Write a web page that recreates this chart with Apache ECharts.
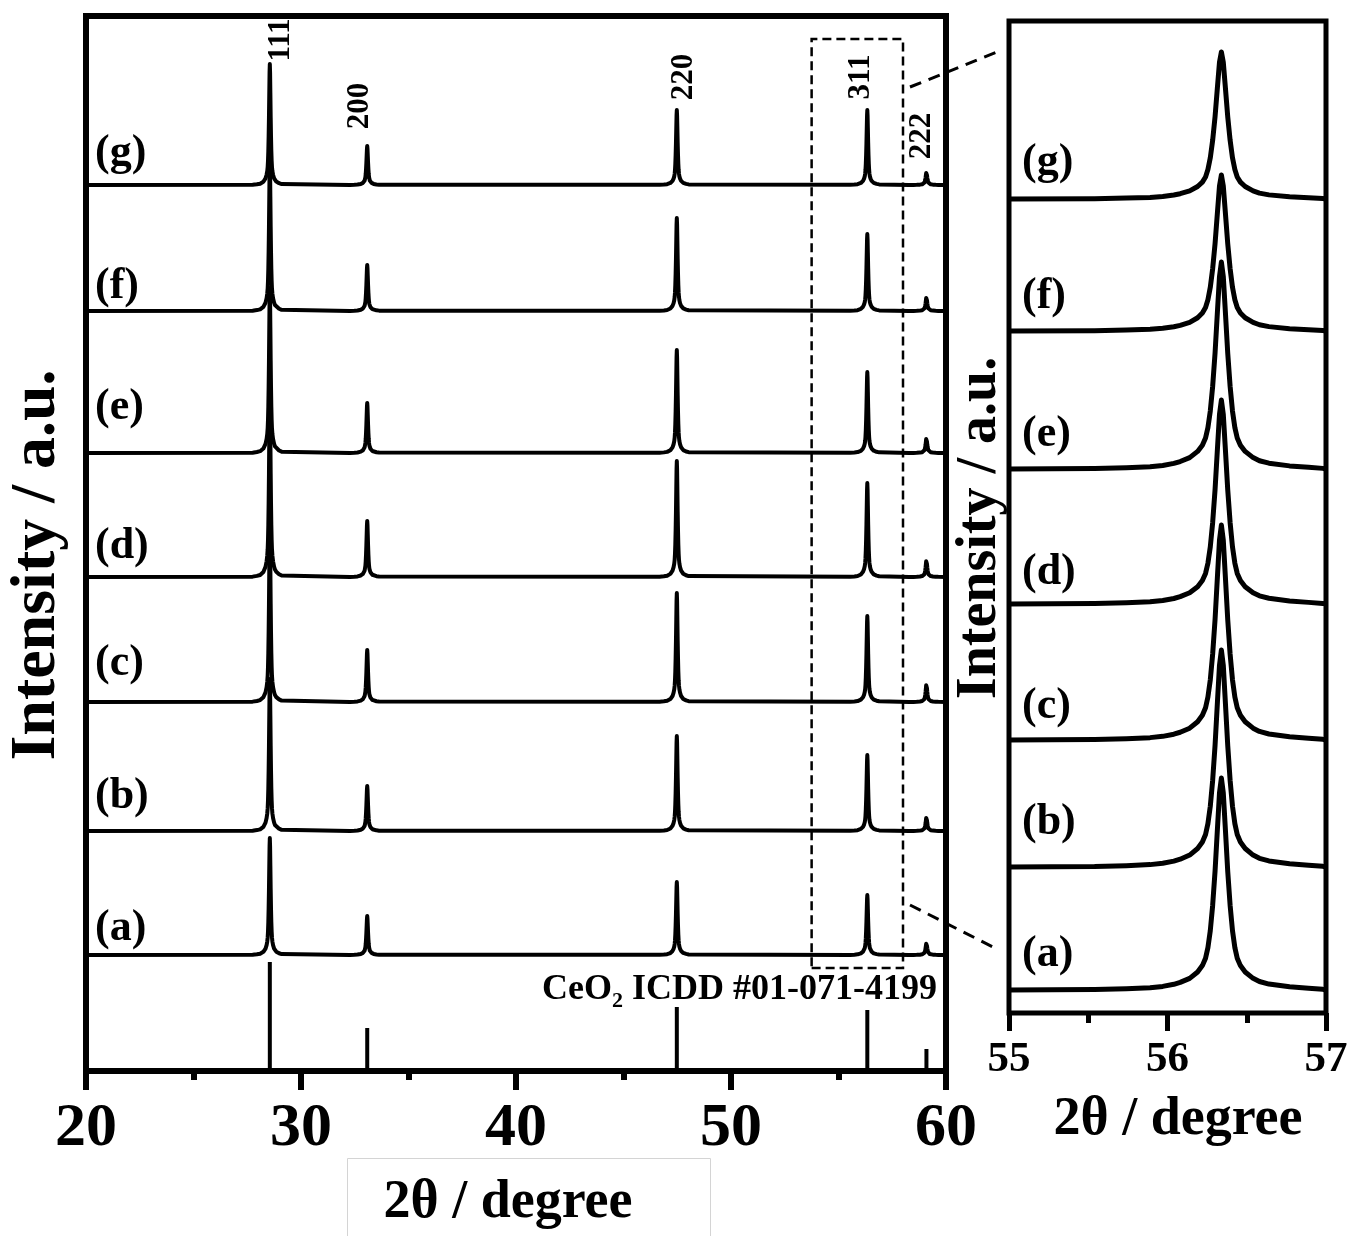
<!DOCTYPE html>
<html><head><meta charset="utf-8">
<script src="https://cdn.jsdelivr.net/npm/echarts@6/dist/echarts.min.js"></script>
<style>html,body{margin:0;padding:0;background:#fff}#c{width:1351px;height:1236px}</style>
</head><body><div id="c"></div>
<script>
// ---------------- data ----------------
const samples = ['(a)', '(b)', '(c)', '(d)', '(e)', '(f)', '(g)'];
const peakPositions = [28.55, 33.08, 47.48, 56.34, 59.09];
const hklLabels = ['111', '200', '220', '311', '222'];

// main panel (intensity in a.u.)
const mainBaselines = [116, 240, 369, 494, 618, 760, 886];
const peak111 = [117, 152, 175, 185, 165, 150, 121];
const peak200 = [39, 45, 52, 56, 50, 46, 39];
const peak220 = [73, 95, 109, 116, 103, 93, 75];
const peak311 = [60, 76, 86, 94, 81, 77, 75];
const peak222 = [12, 14, 18, 17, 15, 14, 13];

// CeO2 ICDD #01-071-4199 reference sticks
const refPositions = [28.55, 33.08, 47.48, 56.34, 59.09];
const refIntensities = [109, 43, 64, 61, 22];

// inset (311 reflection, 55-57 deg)
const insetBaselines = [23, 146, 273, 409, 544, 682, 814];
const insetPeak311 = [212, 217, 215, 204, 207, 156, 147];

// reflection profile: offset from peak centre (deg) and fraction of peak height
const profileOffsets =   [-0.8, -0.6, -0.45, -0.37, -0.3, -0.26, -0.2, -0.15, -0.12, -0.1, -0.085, -0.07, -0.055, -0.04, -0.025, -0.012, 0,
                          0.012, 0.025, 0.04, 0.055, 0.07, 0.085, 0.1, 0.12, 0.15, 0.2, 0.24, 0.3, 0.43, 0.55, 0.64];
const profileFractions = [0.002, 0.006, 0.011, 0.017, 0.027, 0.036, 0.055, 0.085, 0.115, 0.15, 0.2, 0.28, 0.4, 0.56, 0.76, 0.93, 1,
                          0.93, 0.76, 0.56, 0.4, 0.28, 0.2, 0.15, 0.115, 0.085, 0.055, 0.04, 0.028, 0.015, 0.008, 0.003];

const mainTickLabels = ['20', '30', '40', '50', '60'];
const insetTickLabels = ['55', '56', '57'];

// ---------------- build ----------------
const FONT = 'Liberation Serif';
function buildTrace(base, heights, centers, xmin, xmax) {
  const pts = [[xmin, base]];
  centers.forEach((c, i) => {
    profileOffsets.forEach((o, j) => pts.push([c + o, base + heights[i] * profileFractions[j]]));
  });
  pts.push([xmax, base]);
  pts.sort((p, q) => p[0] - q[0]);
  return pts;
}

const series = [];
samples.forEach((s, k) => {
  const h = [peak111[k], peak200[k], peak220[k], peak311[k], peak222[k]];
  series.push({
    name: s, type: 'line', xAxisIndex: 0, yAxisIndex: 0, showSymbol: false, symbol: 'none',
    lineStyle: { color: '#000', width: 4, join: 'round' }, clip: true, silent: true,
    data: buildTrace(mainBaselines[k], h, peakPositions, 20, 60)
  });
  series.push({
    name: s + ' inset', type: 'line', xAxisIndex: 1, yAxisIndex: 1, showSymbol: false, symbol: 'none',
    lineStyle: { color: '#000', width: 5, join: 'round' }, clip: true, silent: true,
    data: buildTrace(insetBaselines[k], [insetPeak311[k]], [peakPositions[3]], 55, 57)
  });
});
series.push({
  name: 'ICDD', type: 'bar', xAxisIndex: 0, yAxisIndex: 0, barWidth: 4, silent: true,
  itemStyle: { color: '#000' },
  data: refPositions.map((x, i) => [x, refIntensities[i]]),
  markArea: {
    silent: true,
    itemStyle: { color: 'rgba(0,0,0,0)', borderColor: '#000', borderWidth: 2.5, borderType: [9, 5] },
    data: [[{ coord: [53.75, 103] }, { coord: [58, 1032] }]]
  }
});

function txt(x, y, text, size, opts) {
  return Object.assign({
    type: 'text', x: x, y: y, silent: true, z: 100,
    style: Object.assign({ text: text, fontSize: size, fontWeight: 'bold', fontFamily: FONT, fill: '#000',
      align: 'center', verticalAlign: 'middle', textAlign: 'center', textVerticalAlign: 'middle' }, (opts && opts.style) || {})
  }, (opts && opts.el) || {});
}

const leftLabelY = [929, 797, 664, 547, 408, 287, 154];
const rightLabelY = [955, 823, 707, 573, 435, 297, 163];
const graphics = [];
samples.forEach((s, k) => {
  graphics.push(txt(95, leftLabelY[k], s, 44, { style: { align: 'left', textAlign: 'left' } }));
  graphics.push(txt(1022, rightLabelY[k], s, 44, { style: { align: 'left', textAlign: 'left' } }));
});
const hklPos = [[281, 40], [360, 106], [684, 77], [861, 77], [922, 136]];
hklLabels.forEach((t, i) => {
  graphics.push(txt(hklPos[i][0], hklPos[i][1], t, 31, { el: { rotation: Math.PI / 2 } }));
});
graphics.push(txt(37, 565, 'Intensity / a.u.', 64, { el: { rotation: Math.PI / 2 } }));
graphics.push(txt(981, 528, 'Intensity / a.u.', 56, { el: { rotation: Math.PI / 2 } }));
graphics.push(txt(508, 1203, '2θ / degree', 54));
graphics.push(txt(1178, 1120, '2θ / degree', 54));
graphics.push({
  type: 'text', x: 937, y: 990, silent: true, z: 100,
  style: {
    text: '{n|CeO}{s|2}{n| ICDD #01-071-4199}', align: 'right', verticalAlign: 'middle',
    textAlign: 'right', textVerticalAlign: 'middle',
    rich: {
      n: { fontSize: 36, fontWeight: 'bold', fontFamily: FONT, fill: '#000', lineHeight: 40 },
      s: { fontSize: 22, fontWeight: 'bold', fontFamily: FONT, fill: '#000', lineHeight: 40, padding: [22, 0, 0, 0] }
    }
  }
});
graphics.push({ type: 'rect', silent: true, shape: { x: 347.5, y: 1158.5, width: 363, height: 100 },
  style: { fill: 'none', stroke: '#d4d4d4', lineWidth: 1 } });
graphics.push({ type: 'line', silent: true, z: 100, shape: { x1: 910, y1: 87, x2: 997, y2: 52 },
  style: { stroke: '#000', lineWidth: 3, lineDash: [12, 8] } });
graphics.push({ type: 'line', silent: true, z: 100, shape: { x1: 910, y1: 905, x2: 993, y2: 947 },
  style: { stroke: '#000', lineWidth: 3, lineDash: [12, 8] } });

const chart = echarts.init(document.getElementById('c'), null, { renderer: 'canvas' });
chart.setOption({
  animation: false,
  backgroundColor: '#fff',
  grid: [
    { left: 86, top: 16, width: 860, height: 1055, show: true, borderColor: '#000', borderWidth: 6, backgroundColor: 'transparent' },
    { left: 1009, top: 21, width: 317, height: 992, show: true, borderColor: '#000', borderWidth: 5, backgroundColor: 'transparent' }
  ],
  xAxis: [
    { type: 'value', gridIndex: 0, min: 20, max: 60, interval: 10,
      axisLine: { show: false }, splitLine: { show: false },
      axisTick: { show: true, inside: false, length: 19, lineStyle: { color: '#000', width: 6 } },
      minorTick: { show: true, splitNumber: 2, length: 9, lineStyle: { color: '#000', width: 6 } },
      axisLabel: { margin: 27, fontSize: 62, fontWeight: 'bold', fontFamily: FONT, color: '#000',
        formatter: v => mainTickLabels[mainTickLabels.indexOf(String(v))] || '' } },
    { type: 'value', gridIndex: 1, min: 55, max: 57, interval: 1,
      axisLine: { show: false }, splitLine: { show: false },
      axisTick: { show: true, inside: false, length: 18, lineStyle: { color: '#000', width: 5 } },
      minorTick: { show: true, splitNumber: 2, length: 10, lineStyle: { color: '#000', width: 5 } },
      axisLabel: { margin: 25, fontSize: 43, fontWeight: 'bold', fontFamily: FONT, color: '#000',
        formatter: v => insetTickLabels[insetTickLabels.indexOf(String(v))] || '' } }
  ],
  yAxis: [
    { type: 'value', gridIndex: 0, min: 0, max: 1055, show: false },
    { type: 'value', gridIndex: 1, min: 0, max: 992, show: false }
  ],
  series: series,
  graphic: graphics
});
</script></body></html>
